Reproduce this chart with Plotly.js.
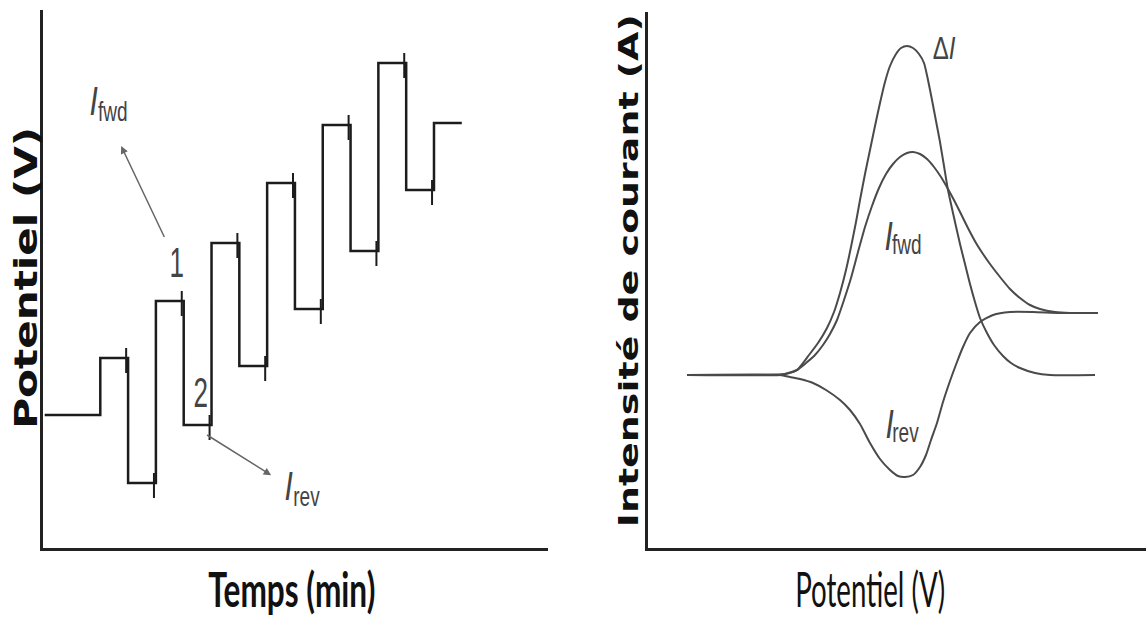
<!DOCTYPE html>
<html><head><meta charset="utf-8">
<script src="https://cdn.plot.ly/plotly-3.0.1.min.js"></script>
<style>html,body{margin:0;padding:0;background:#fff;} #chart{width:1146px;height:621px;}</style>
</head><body><div id="chart"></div>
<script>
// Left panel: square-wave staircase (time in half-periods, potential in arbitrary units)
const temps = [0, 2, 3, 4, 5, 6, 7, 8, 9, 10, 11, 12, 13, 14, 15];
const potentiel = [133, 190, 65, 247, 123, 305, 182, 365, 239, 423, 297, 485, 358, 425, 425];

// Right panel: currents vs potential (arbitrary units)
const deltaI_x = [39,112,137,149,161,170,179,186,192,198,203,208,212,217,222,227,232,237,242,248,253,259,265,271,276,280,284,288,292,296,300,307,312,317,322,327,332,339,346,355,363,372,387,402,447];
const deltaI_y = [0,0,1,5,20,32,47,63,82,105,128,153,175,201,225,249,272,293,309,321,327,329,327,321,312,295,275,254,233,209,185,153,131,111,91,73,57,42,30,19,12,7,2,0,0];
const ifwd_x = [39,132,137,149,158,167,175,182,189,196,203,210,217,224,231,238,245,252,259,265,272,279,286,293,300,307,314,321,328,335,342,352,362,372,382,392,407,422,450];
const ifwd_y = [0,0,1,5,12,20,30,41,55,75,97,123,148,169,187,201,211,218,222,223,221,216,208,198,186,173,159,145,132,121,111,98,86,77,70,66,63,62,62];
const irev_x = [39,132,142,152,165,178,192,202,212,222,232,242,250,257,265,272,278,283,289,295,302,309,315,322,332,345,362,385,412,450];
const irev_y = [0,0,-2,-4,-8,-15,-25,-35,-49,-68,-84,-95,-101,-102,-100,-92,-80,-65,-48,-27,-6,13,28,42,53,60,63,63,62,62];

// sampling markers at the end of each pulse (built from the staircase arrays)
const mx = [], my = [];
for (let i = 1; i <= 12; i++) {
  mx.push(temps[i + 1] - 0.07, temps[i + 1] - 0.07, null);
  my.push(potentiel[i] + 10, potentiel[i] - 15, null);
}

const curveLine = {color: '#4a4a4a', width: 2, shape: 'spline', smoothing: 0.6};
const traces = [
  {x: temps, y: potentiel, xaxis: 'x', yaxis: 'y', mode: 'lines',
   line: {color: '#1c1c1c', width: 2.5, shape: 'hv'}, hoverinfo: 'skip'},
  {x: mx, y: my, xaxis: 'x', yaxis: 'y', mode: 'lines',
   line: {color: '#1c1c1c', width: 2}, hoverinfo: 'skip'},
  {x: deltaI_x, y: deltaI_y, xaxis: 'x2', yaxis: 'y2', mode: 'lines', line: curveLine, name: 'ΔI'},
  {x: ifwd_x, y: ifwd_y, xaxis: 'x2', yaxis: 'y2', mode: 'lines', line: curveLine, name: 'Ifwd'},
  {x: irev_x, y: irev_y, xaxis: 'x2', yaxis: 'y2', mode: 'lines', line: curveLine, name: 'Irev'}
];

const axBase = {showline: true, linecolor: '#222', linewidth: 3, showticklabels: false,
  ticks: '', showgrid: false, zeroline: false, fixedrange: true};
const iFont = {family: 'Liberation Sans, Arial, sans-serif', size: 40, color: '#444', style: 'italic'};
const subFont = {family: 'Liberation Sans, Arial, sans-serif', size: 28, color: '#444'};
const numFont = {family: 'Liberation Sans, Arial, sans-serif', size: 42, color: '#444'};
const xTitleFont = {family: 'Lato, Liberation Sans, sans-serif', size: 48, color: '#111'};
const yTitleFont = {family: 'DejaVu Sans, sans-serif', size: 32, color: '#111', weight: 'bold'};
const arrowStyle = {showarrow: true, arrowhead: 2, startarrowhead: 2, arrowsize: 1, startarrowsize: 1,
  arrowwidth: 1.5, arrowcolor: '#666'};

const annotations = [
  {xref: 'paper', yref: 'paper', x: 291.5/1146, y: (621-588)/621, text: 'Temps (min)',
   showarrow: false, xanchor: 'center', yanchor: 'middle', font: Object.assign({}, xTitleFont, {weight: 'bold'})},
  {xref: 'paper', yref: 'paper', x: 870/1146, y: (621-588)/621, text: 'Potentiel (V)',
   showarrow: false, xanchor: 'center', yanchor: 'middle', font: xTitleFont},
  {xref: 'paper', yref: 'paper', x: 26.5/1146, y: (621-278)/621, text: 'Potentiel (V)', textangle: -90,
   showarrow: false, xanchor: 'center', yanchor: 'middle', font: yTitleFont},
  {xref: 'paper', yref: 'paper', x: 629/1146, y: (621-270.5)/621, text: 'Intensité de courant (A)', textangle: -90,
   showarrow: false, xanchor: 'center', yanchor: 'middle', font: Object.assign({}, yTitleFont, {size: 26})},
  // left panel: "1" with arrow towards I_fwd, I_rev with arrow coming from step 2
  Object.assign({xref: 'x', yref: 'y', axref: 'x', ayref: 'y', x: 2.75, y: 402, ax: 4.73, ay: 286,
   text: '1', font: numFont}, arrowStyle),
  Object.assign({xref: 'x', yref: 'y', axref: 'x', ayref: 'y', x: 5.84, y: 113, ax: 8.76, ay: 62,
   text: 'I', font: iFont, arrowside: 'start', startstandoff: 12}, arrowStyle),
  {xref: 'x', yref: 'y', x: 9.40, y: 52, text: 'rev', showarrow: false, font: subFont},
  {xref: 'x', yref: 'y', x: 1.74, y: 447, text: 'I', showarrow: false, font: iFont},
  {xref: 'x', yref: 'y', x: 2.46, y: 436, text: 'fwd', showarrow: false, font: subFont},
  {xref: 'x', yref: 'y', x: 5.59, y: 156, text: '2', showarrow: false, font: numFont},
  // right panel labels
  {xref: 'x2', yref: 'y2', x: 296, y: 327, text: 'Δ<i>I</i>', showarrow: false,
   font: {family: 'Liberation Sans, Arial, sans-serif', size: 32, color: '#444'}},
  {xref: 'x2', yref: 'y2', x: 240, y: 139, text: 'I', showarrow: false, font: iFont},
  {xref: 'x2', yref: 'y2', x: 259, y: 130, text: 'fwd', showarrow: false, font: subFont},
  {xref: 'x2', yref: 'y2', x: 241, y: -49, text: 'I', showarrow: false, font: iFont},
  {xref: 'x2', yref: 'y2', x: 257, y: -57, text: 'rev', showarrow: false, font: subFont}
];
// horizontal squeeze of each text (the reference letters are tall and narrow)
const squeeze = [{w: 167}, {w: 150}, {w: 302}, {w: 513}, {f: 0.62}, {f: 0.75}, {f: 0.68},
  {f: 0.75}, {f: 0.68}, {f: 0.62}, {f: 0.75}, {f: 0.75}, {f: 0.68}, {f: 0.75}, {f: 0.68}];

const layout = {
  width: 1146, height: 621,
  margin: {l: 0, r: 0, t: 0, b: 0},
  paper_bgcolor: '#fff', plot_bgcolor: '#fff',
  showlegend: false,
  xaxis: Object.assign({}, axBase, {domain: [43/1146, 548/1146], range: [-0.06, 18.1], anchor: 'y'}),
  yaxis: Object.assign({}, axBase, {domain: [73/621, 611/621], range: [0, 538], anchor: 'x'}),
  xaxis2: Object.assign({}, axBase, {domain: [648/1146, 1], range: [0, 498], anchor: 'y2'}),
  yaxis2: Object.assign({}, axBase, {domain: [73/621, 609/621], range: [-173, 363], anchor: 'x2'}),
  annotations: annotations
};

Plotly.newPlot('chart', traces, layout, {staticPlot: true, displayModeBar: false}).then(function (gd) {
  gd.querySelectorAll('g.annotation').forEach(function (g) {
    const idx = +g.getAttribute('data-index');
    const s = squeeze[idx];
    const el = g.querySelector('text.annotation-text');
    if (!s || !el) return;
    const b = el.getBBox();
    const sx = s.w ? s.w / b.width : s.f;
    const cx = b.x + b.width / 2, cy = b.y + b.height / 2;
    const prev = el.getAttribute('transform') || '';
    el.setAttribute('transform', prev + ' translate(' + cx + ',' + cy + ') scale(' + sx + ',1) translate(' + (-cx) + ',' + (-cy) + ')');
  });
});
</script>
</body></html>
